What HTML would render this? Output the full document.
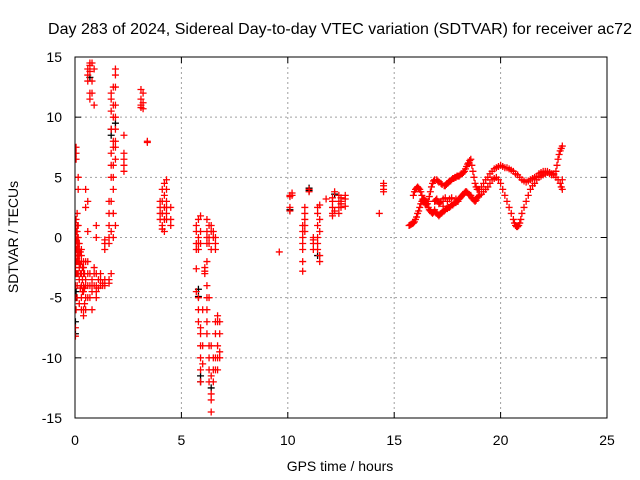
<!DOCTYPE html>
<html><head><meta charset="utf-8"><style>
body{margin:0;background:#fff;}
svg{display:block;font-family:"Liberation Sans",sans-serif;}
</style></head><body>
<svg id="chart" width="640" height="480">
<rect width="640" height="480" fill="#fff"/>
<text x="340" y="34" font-size="16" text-anchor="middle" textLength="584">Day 283 of 2024, Sidereal Day-to-day VTEC variation (SDTVAR) for receiver ac72</text>
<text x="340" y="471" font-size="14" text-anchor="middle">GPS time / hours</text>
<text transform="translate(18,237) rotate(-90)" font-size="14" text-anchor="middle">SDTVAR / TECUs</text>
<g id="grid"></g><g id="ticks"></g>
<defs><clipPath id="pc"><rect x="75" y="57" width="532" height="361"/></clipPath></defs>
<g id="marks" clip-path="url(#pc)"></g>
<rect x="75" y="57" width="532" height="361" fill="none" stroke="#000"/>
</svg>
<script>
const xTicks=[0,5,10,15,20,25];
const yTicks=[-15,-10,-5,0,5,10,15];
const blackGroups=[[0.02,[-8,-7]],[0.05,[-5,-4.5]],[1.7,[9,8.5]],[1.9,[9.5]],[5.8,[-4.3,-4.9]],[5.9,[-12,-11.5]],[6.4,[-12.5]],[10.1,[2.3]],[11.0,[3.9,4.1]],[11.4,[-1.5]],[0.7,[13.3]],[12.2,[3.6]]];
const redGroups=[
[0.02,[-8.2,-7.5,-6,-5,-4,-2,-1,0,1,-3,-2.5,-1.5,-0.5,0.5]],[0.05,[-6,-3,-1,0.5,7.5,7,6.5,-2,1.5,-0.2]],[0.1,[-2,-0.5,0,1,2,-3,-4,-5,-1.5,0.5,-1]],
[0.15,[-1,-2,-3,0,4,5,-0.5,1,-1.5]],[0.2,[-0.5,-1.5,-2.5,-3.5,-5.5,-1,-2]],[0.25,[-1.2,-2.2,-3,-4.2]],[0.3,[-1,-2,-3,-4,-5,-6,-1.5]],
[0.35,[-2.5,-3.5,-4.5]],[0.4,[-2,-3,-4,-4.5,-6.5,-6,-2.5]],[0.45,[-3,-4.2,-5.5]],[0.5,[-2,-3.5,-4,-5,-6,4,2.5]],[0.6,[13.5,14,-3,-4,-5,-2,0.5,3,13]],
[0.7,[14.3,13.8,12,11.5,-3,-4,-5,14.5]],[0.8,[14.5,13,12,-3.5,-4,-4.5,-6]],[0.9,[14,11,-3,-4,-2.5]],
[1.0,[-3,-4,-5,0,1,-4.5]],[1.1,[-3.5,-4.2]],[1.2,[-4,-3.5,-3]],[1.3,[-4,-3.8]],[1.4,[-3.5,-4,-1,-0.5,-0.2]],
[1.6,[-3.5,-3.8,-0.5,0,1,2,3]],[1.7,[12,11.5,10.5,9,7,6,5,3,0.5,-3]],[1.8,[12.5,11,10,8,7.5,6,5,4,2,0]],
[1.9,[14,13.5,12.5,11,10,9,8,7.5,6.5,1]],[2.3,[8.5,7,6,5.5,6.5]],[3.1,[12.3,11.5,11,10.8]],[3.2,[12,11.2,10.7]],
[3.4,[8,7.9]],[4.0,[3,2.5,2,1.5]],[4.1,[4,3,2,1,0.7]],[4.2,[4.5,3.5,2.5,1.5,0.5]],[4.3,[4.8,4,3,2,1.5,2.5]],[4.5,[1.5,1,2.5]],
[5.7,[0.5,1,-0.5,-1,-2.6,-4.5]],[5.8,[0,1.5,-0.5,-1,-6,-7,-5]],[5.9,[0.5,1.8,-0.5,-7.5,-8,-9,-10,-11,-12]],
[6.0,[-6,-9,-10.5]],[6.1,[-2.5,-2.8,-3]],[6.2,[0.5,1.5,0,-0.5,-2,-4,-5,-6,-7,-8]],[6.3,[0,1,-0.5,-5,-9,-10,-11,-12]],
[6.4,[0.5,1,-1,-9,-11.5,-13,-13.5,-14.5]],[6.5,[0,0.5,-10,-11,-12]],[6.6,[0,-1,-0.5,-7,-8,-10,-11]],
[6.7,[-6.5,-7,-9,-10,-11]],[6.8,[-7,-8,-9.5,-10]],[9.6,[-1.2]],[10.1,[3.5,3.4,2.5,2.2]],[10.2,[3.7,3.5]],
[10.7,[0.5,0,-0.5,-1,-2,-2.8,1]],[10.8,[2.5,2,1.5,1,0.5]],[11.0,[4,3.8]],[11.2,[0,-0.5,-0.2,-1]],
[11.4,[2.5,2,1,0,-0.5,-1]],[11.5,[2.7,1.5,0.5,-1.5,-2]],[11.8,[3.2]],[12.1,[3.3,3,2.5,2,1.8]],[12.2,[3.8,2.2]],
[12.4,[3,2.5,2,3.5]],[12.5,[3,2.5,3.3,2.8]],[12.7,[3.2,2.6,3.5]],[14.3,[2]],[14.5,[4,4.5,3.8,4.3]],
[15.7,[1]],[15.75,[1.05]],[15.8,[1.1]],[15.85,[1.15]],[15.9,[1.2,3.5]],[15.95,[1.3,3.8]],[16.0,[1.5,4]],[16.05,[1.7,4.1]],[16.1,[2,4.2]],[16.15,[2.2,4.1]],[16.2,[2.5,4]],[16.25,[2.8,3.8]],[16.3,[3,3.5]],[16.35,[3.1,3.2]],[16.4,[3.2,3]],
[16.45,[3.1,2.8]],[16.5,[3,2.7]],[16.55,[2.8,2.8]],[16.6,[2.5,3]],[16.65,[2.3,3.4]],[16.7,[2.2,3.8]],[16.75,[2.1,4.2]],[16.8,[2,4.5]],[16.85,[2.1,4.7]],[16.9,[2.3,3,4.8]],[16.95,[2.1,3.1]],[17.0,[2,4.8,3.2]],[17.05,[1.9,4.7,3]],[17.1,[1.8,2.8,4.6]],[17.15,[1.9,2.9]],
[17.2,[2,4.5,3]],[17.25,[2.1,4.4]],[17.3,[2.6,3.2,2.2]],[17.35,[4.3,2.2]],[17.4,[2.3,4.3,3.3]],[17.45,[2.4,4.4]],[17.5,[4.5,3,2.4]],[17.55,[2.5,4.6]],[17.6,[2.5,4.7,3.2]],[17.65,[2.6,4.7]],[17.7,[4.8,3.3,2.7]],[17.75,[2.7,4.9]],[17.8,[2.8,4.9]],[17.85,[2.9,5]],
[17.9,[5,3.2,2.9]],[17.95,[3,5.1]],[18.0,[3,5.1]],[18.05,[3.2,5.1]],[18.1,[5.2,3.3]],[18.15,[3.4,5.3]],[18.2,[3.5,5.3]],[18.25,[3.6,5.4]],[18.3,[5.5,3.7]],[18.35,[3.8,5.7]],[18.4,[3.8,5.9]],[18.45,[3.7,6.1]],[18.5,[6.2,3.6]],[18.55,[3.5,6.4]],[18.6,[3.5,6.5]],[18.65,[3.3,6]],
[18.7,[5.5,3.2]],[18.75,[3.1,5]],[18.8,[3,4.5]],[18.85,[3.1,4.2]],[18.9,[4,3.3]],[18.95,[3.4,4]],[19.0,[3.5,4]],[19.1,[3.6,4.2]],[19.2,[3.8,4.5]],[19.3,[4,4.8]],[19.4,[4.2,5]],[19.5,[4.5,5.3]],[19.6,[4.8,5.5]],[19.7,[4.9,5.7]],
[19.8,[5,5.8]],[19.9,[4.8,5.9]],[20.0,[4.5,6]],[20.1,[4,5.9]],[20.2,[3.5,5.8]],[20.3,[3,5.8]],[20.4,[2.5,5.7]],[20.5,[2,5.6]],[20.6,[1.5,5.5]],[20.65,[1.2]],[20.7,[1,5.3]],[20.75,[0.9]],[20.8,[0.9,5.2]],[20.85,[1]],
[20.9,[1.2,5]],[20.95,[1.5]],[21.0,[2,4.8]],[21.1,[2.5,4.7]],[21.2,[3,4.6]],[21.3,[3.5,4.7]],[21.4,[4,4.8]],[21.5,[4.3,4.9]],[21.6,[4.5,5]],[21.7,[4.8,5.1]],[21.8,[5,5.3]],[21.9,[5.1,5.4]],[22.0,[5.2,5.5]],[22.1,[5.3,5.5]],
[22.2,[5.4,5.5]],[22.3,[5.4,5.3]],[22.4,[5.3,5.2]],[22.5,[5.2,5.3]],[22.6,[5,5.5]],[22.65,[6]],[22.7,[6.5,4.8]],[22.75,[6.9]],[22.8,[4.5,7.2]],[22.85,[4.2,7.4]],[22.9,[4,7.6,4.8]]
];
const L=75,R=607,T=57,B=418;
const sx=t=>L+(t-0)/(25-0)*(R-L);
const sy=v=>B-(v+15)/30*(B-T);
const NS='http://www.w3.org/2000/svg';
const grid=document.getElementById('grid'),ticks=document.getElementById('ticks'),marks=document.getElementById('marks');
function mk(tag,attrs,parent){const e=document.createElementNS(NS,tag);for(const k in attrs)e.setAttribute(k,attrs[k]);parent.appendChild(e);return e;}
xTicks.forEach(t=>{const x=sx(t);
 if(t>0&&t<25){const g=mk('line',{x1:x,x2:x,y1:T,y2:B,stroke:'#a0a0a0','stroke-dasharray':'2,3'},grid);}
 mk('line',{x1:x,x2:x,y1:B,y2:B-6,stroke:'#000'},ticks);mk('line',{x1:x,x2:x,y1:T,y2:T+6,stroke:'#000'},ticks);
 const lb=mk('text',{x:x,y:B+27,'font-size':14,'text-anchor':'middle'},ticks);lb.textContent=t;
 
 });
yTicks.forEach(v=>{const y=sy(v);
 if(v>-15&&v<15){const g=mk('line',{x1:L,x2:R,y1:y,y2:y,stroke:'#a0a0a0','stroke-dasharray':'2,3'},grid);}
 mk('line',{x1:L,x2:L+6,y1:y,y2:y,stroke:'#000'},ticks);mk('line',{x1:R,x2:R-6,y1:y,y2:y,stroke:'#000'},ticks);
 const lb=mk('text',{x:L-13,y:y+5,'font-size':14,'text-anchor':'end'},ticks);lb.textContent=v;
 
 });
function plus(t,v,col,name){const x=sx(t),y=sy(v);
 const p=mk('path',{d:`M${x-3.5},${y}h7M${x},${y-3.5}v7`,stroke:col,'stroke-width':1.3,fill:'none'},marks);
 
 }
blackGroups.forEach(g=>g[1].forEach(v=>plus(g[0],v,'#000','black-point')));
redGroups.forEach(g=>g[1].forEach(v=>plus(g[0],v,'#f00','red-point')));
</script>
</body></html>
